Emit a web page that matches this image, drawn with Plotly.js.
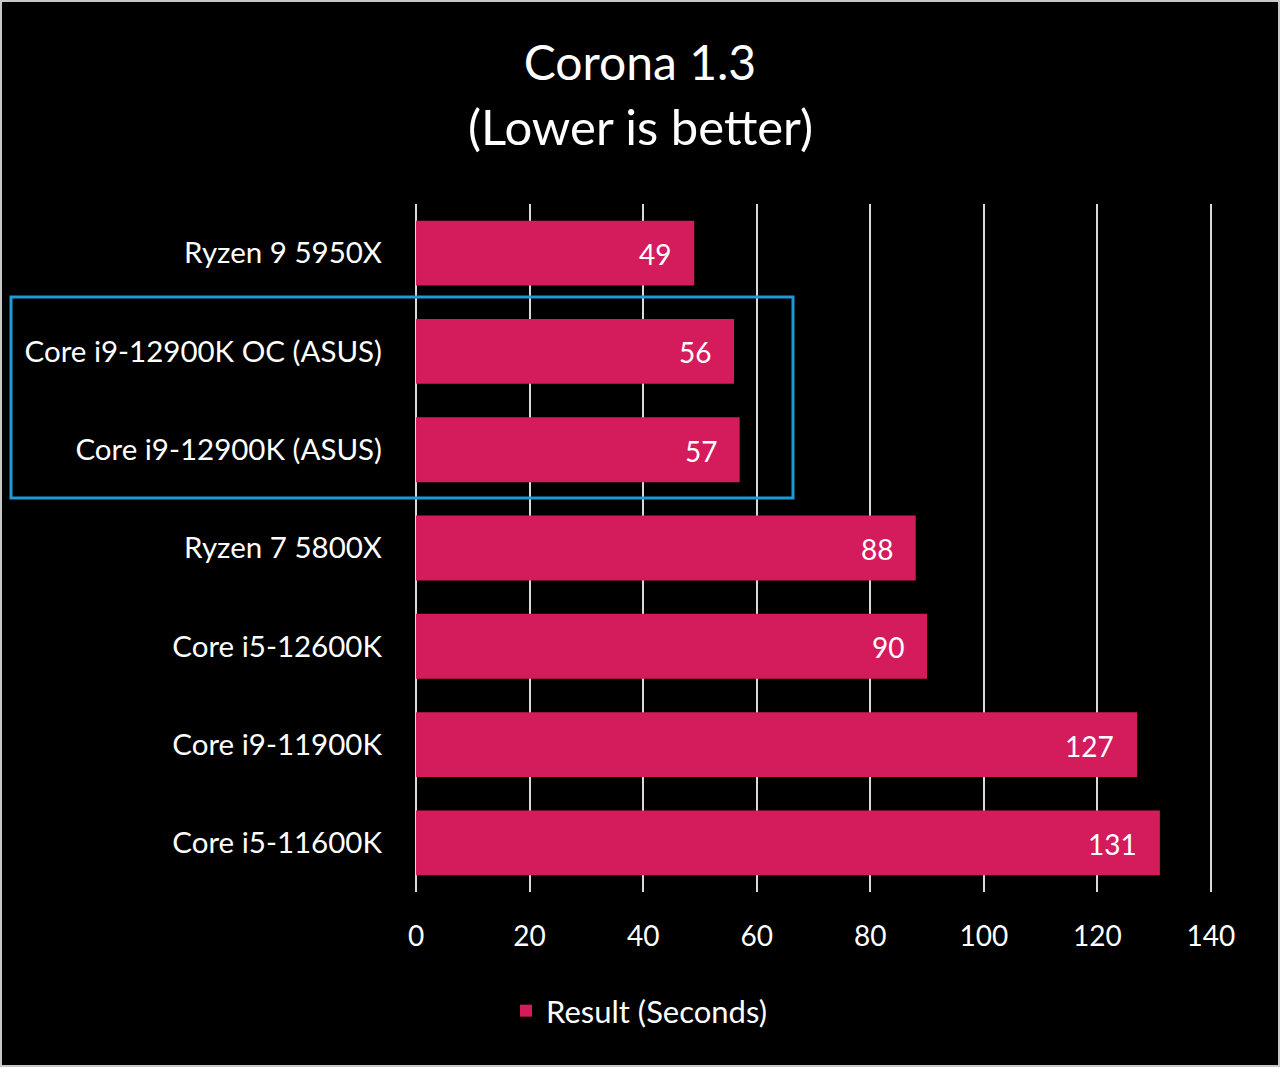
<!DOCTYPE html>
<html>
<head>
<meta charset="utf-8">
<script src="https://cdn.plot.ly/plotly-3.0.1.min.js"></script>
<style>
  html, body { margin: 0; padding: 0; background: #000; }
  #wrap { position: relative; width: 1280px; height: 1067px; }
  #chart { width: 1280px; height: 1067px; }
  #frame { position: absolute; left: 0; top: 0; width: 1276px; height: 1063px; border: 2px solid #c8c8c8; pointer-events: none; }
</style>
</head>
<body>
<div id="wrap">
  <div id="chart"></div>
  <div id="frame"></div>
</div>
<script>
const categories = [
  "Ryzen 9 5950X",
  "Core i9-12900K OC (ASUS)",
  "Core i9-12900K (ASUS)",
  "Ryzen 7 5800X",
  "Core i5-12600K",
  "Core i9-11900K",
  "Core i5-11600K"
];
const values = [49, 56, 57, 88, 90, 127, 131];
const seriesName = "Result (Seconds)";
const xTicks = [0, 20, 40, 60, 80, 100, 120, 140];

const FONT = "Lato, 'Open Sans', sans-serif";
const BAR = "#d41c5c";

// plot area geometry (px)
const PL = 415, PR = 1212, PT = 204, PB = 892;
const PW = PR - PL, PH = PB - PT;

const trace = {
  type: "bar",
  orientation: "h",
  y: categories,
  x: values,
  name: seriesName,
  marker: { color: BAR },
  hoverinfo: "x+y",
  showlegend: true
};

const labelAnns = values.map((v, i) => ({
  x: v, y: categories[i], xref: "x", yref: "y",
  text: String(v), showarrow: false, xanchor: "right", xshift: -21, yshift: -1,
  font: { family: FONT, size: 28, color: "#ffffff" }
}));

const layout = {
  width: 1280, height: 1067,
  paper_bgcolor: "#000000", plot_bgcolor: "#000000",
  margin: { l: PL, r: 1280 - PR, t: PT, b: 1067 - PB, autoexpand: false },
  font: { family: FONT, color: "#ffffff", size: 28 },
  title: {
    text: "Corona 1.3",
    x: 0.5, xref: "container", xanchor: "center",
    y: 1 - 63 / 1067, yref: "container", yanchor: "middle",
    font: { family: FONT, size: 48, color: "#ffffff" }
  },
  bargap: 0.34,
  xaxis: {
    range: [-0.18, 140.18],
    tickvals: xTicks,
    ticktext: xTicks.map(String),
    showgrid: true, gridcolor: "#d9d9d9", gridwidth: 2,
    zeroline: false, showline: false,
    ticks: "", ticklabelstandoff: 25,
    tickfont: { family: FONT, size: 28, color: "#ffffff" },
    fixedrange: true
  },
  yaxis: {
    type: "category",
    autorange: "reversed",
    showgrid: false, zeroline: false, showline: false,
    ticks: "", ticklabelstandoff: 32,
    tickfont: { family: FONT, size: 29.5, color: "#ffffff" },
    fixedrange: true
  },
  legend: {
    orientation: "h",
    x: (506 - PL) / PW, xanchor: "left",
    y: -(1011 - PB) / PH, yanchor: "middle",
    font: { family: FONT, size: 31, color: "#ffffff" },
    bgcolor: "rgba(0,0,0,0)"
  },
  annotations: [
    {
      text: "(Lower is better)", xref: "paper", yref: "paper",
      x: (640 - PL) / PW, xanchor: "center",
      y: (PB - 126) / PH, yanchor: "middle",
      showarrow: false,
      font: { family: FONT, size: 49, color: "#ffffff" }
    }
  ].concat(labelAnns),
  shapes: [
    {
      type: "rect", xref: "paper", yref: "paper",
      x0: (11 - PL) / PW, x1: (793 - PL) / PW,
      y0: (PB - 498) / PH, y1: (PB - 297) / PH,
      line: { color: "#1f9ad6", width: 3 },
      fillcolor: "rgba(0,0,0,0)"
    }
  ]
};

Plotly.newPlot("chart", [trace], layout, { displayModeBar: false, staticPlot: true });
</script>
</body>
</html>
